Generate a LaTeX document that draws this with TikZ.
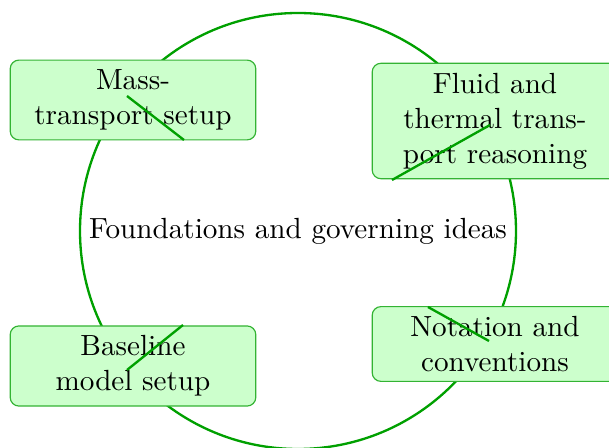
\documentclass[tikz,border=0pt]{standalone}
\usepackage{tikz}

\definecolor{ringgreen}{RGB}{0,160,0}
\definecolor{boxfill}{RGB}{204,255,204}
\tikzset{
  topic/.style={draw=ringgreen!80, fill=boxfill, rounded corners=3pt,
    text width=2.75cm, align=center, inner xsep=3pt, inner ysep=3.3pt},
}

\begin{document}
\begin{tikzpicture}[x=0.343pt, y=-0.343pt]
  \useasboundingbox (0,0) rectangle (609,448);
  \draw[ringgreen, thick] (298,231) circle [radius=218];
  \node(core) at (298,231) {Foundations and governing ideas};

  \node[topic](mass)     at (133,100) {Mass-\\transport setup};
  \node[topic](fluid)    at (495,121) {Fluid and\\thermal trans-\\port reasoning};
  \node[topic](baseline) at (133,366) {Baseline\\model setup};
  \node[topic](notation) at (495,344) {Notation and\\conventions};

  \draw[ringgreen, thick] (127,96)  -- (184,140);
  \draw[ringgreen, thick] (490,125) -- (392,180);
  \draw[ringgreen, thick] (183,325) -- (127,370);
  \draw[ringgreen, thick] (428,307) -- (489,341);
\end{tikzpicture}
\end{document}
